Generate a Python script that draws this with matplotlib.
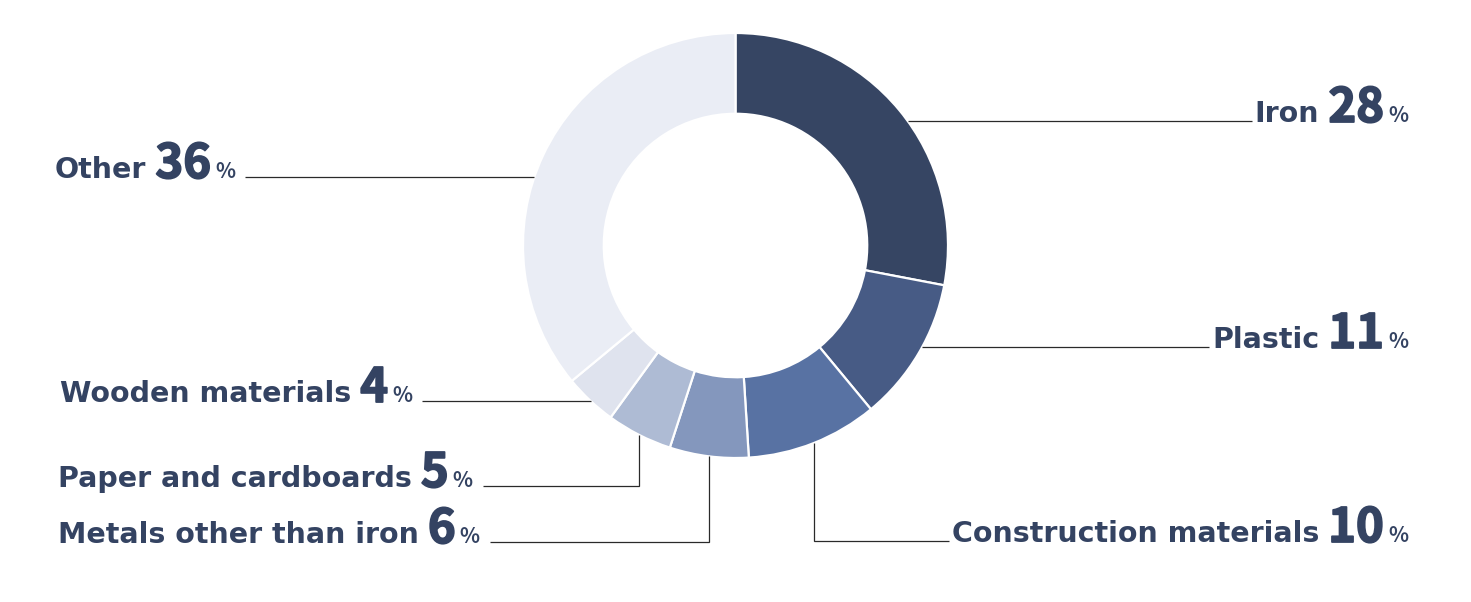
import numpy as np
import matplotlib
matplotlib.use("Agg")
import matplotlib.pyplot as plt
import matplotlib.patheffects as pe

categories = ["Iron", "Plastic", "Construction materials", "Metals other than iron",
              "Paper and cardboards", "Wooden materials", "Other"]
values = [28, 11, 10, 6, 5, 4, 36]
colors = ["#364563", "#475b85", "#5872a3", "#8497bd", "#aebbd4", "#dfe3ee", "#eaedf5"]

# label layout: side, baseline (px from top), leader type, left x (for left labels)
sides = ["R", "R", "R", "L", "L", "L", "L"]
baselines = [122, 348, 542, 543, 487, 402, 178]
leaders = ["h", "h", "v", "v", "v", "h", "h"]
left_x = [None, None, None, 58, 58, 60, 55]
RIGHT_X = 1408

TXT = "#344362"
LINE = "#2a2a2a"
NAME_FAM = ["DejaVu Sans"]
NUM_FAM = ["Noto Sans CJK JP", "DejaVu Sans"]
NAME_SZ, NUM_SZ, PCT_SZ = 20.5, 34, 15

W, H = 1471, 602
fig = plt.figure(figsize=(W / 100, H / 100), dpi=100)
ax = fig.add_axes([0, 0, 1, 1])
cx, cy, R = 735.5, H - 245.5, 212.5
wedges, _ = ax.pie(values, colors=colors, startangle=90, counterclock=False,
                   radius=R, center=(cx, cy),
                   wedgeprops=dict(width=R * 0.38, edgecolor="white", linewidth=1.6))
ax.set_xlim(0, W)
ax.set_ylim(0, H)
ax.set_aspect("auto")
ax.axis("off")

fig.canvas.draw()
rend = fig.canvas.get_renderer()
heavy = [pe.withStroke(linewidth=1.3, foreground=TXT)]

def put(x, y, s, size, ha, fam, effects=None):
    t = ax.text(x, y, s, fontsize=size, color=TXT, family=fam, fontweight="bold",
                ha=ha, va="baseline")
    if effects:
        t.set_path_effects(effects)
    bb = t.get_window_extent(rend)
    return t, bb

for i, (cat, val) in enumerate(zip(categories, values)):
    yb = H - baselines[i]
    yl = yb + 1
    if sides[i] == "R":
        _, bp = put(RIGHT_X, yb, "%", PCT_SZ, "right", NUM_FAM)
        _, bn = put(bp.x0 - 4, yb, f"{val}", NUM_SZ, "right", NUM_FAM, heavy)
        _, bt = put(bn.x0 - 9, yb, cat, NAME_SZ, "right", NAME_FAM)
        text_edge = bt.x0 - 3
    else:
        _, bt = put(left_x[i], yb, cat, NAME_SZ, "left", NAME_FAM)
        _, bn = put(bt.x1 + 9, yb, f"{val}", NUM_SZ, "left", NUM_FAM, heavy)
        _, bp = put(bn.x1 + 4, yb, "%", PCT_SZ, "left", NUM_FAM)
        text_edge = bp.x1 + 10

    w = wedges[i]
    mid = np.deg2rad((w.theta1 + w.theta2) / 2)
    if leaders[i] == "h":
        dy = yl - cy
        dx = np.sqrt(max(R * R - dy * dy, 0))
        ax_x = cx + dx if sides[i] == "R" else cx - dx
        ax.plot([ax_x, text_edge], [yl, yl], color=LINE, lw=0.9, solid_capstyle="butt")
    else:
        vx = cx + R * np.cos(mid)
        vy = cy - np.sqrt(max(R * R - (vx - cx) ** 2, 0))
        ax.plot([vx, vx, text_edge], [vy, yl, yl], color=LINE, lw=0.9,
                solid_capstyle="butt", solid_joinstyle="miter")

fig.savefig("out.png", dpi=100)
